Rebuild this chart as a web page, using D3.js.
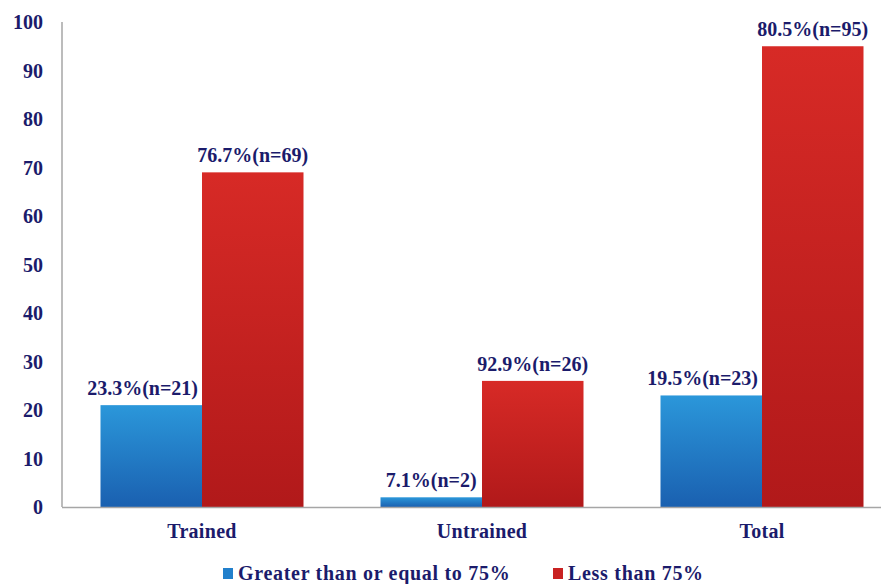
<!DOCTYPE html>
<html><head><meta charset="utf-8">
<script src="https://cdn.jsdelivr.net/npm/d3@7"></script>
<style>
html,body{margin:0;padding:0;background:#fff;}
</style></head>
<body>
<svg id="c" width="883" height="584"></svg>
<script>
const categories = ["Trained", "Untrained", "Total"];
const seriesNames = ["Greater than or equal to 75%", "Less than 75%"];
const greaterValues = [21, 2, 23];
const lessValues = [69, 26, 95];
const greaterLabels = ["23.3%(n=21)", "7.1%(n=2)", "19.5%(n=23)"];
const lessLabels = ["76.7%(n=69)", "92.9%(n=26)", "80.5%(n=95)"];
const yTicks = [0, 10, 20, 30, 40, 50, 60, 70, 80, 90, 100];

(function () {
const svg = d3.select("#c");
function styleText(sel, size) {
  return sel.attr("font-family", "Liberation Serif").attr("font-weight", "bold")
    .attr("font-size", size).attr("fill", "#1b1b6b");
}
const defs = svg.append("defs");
function grad(id, c0, c1) {
  const g = defs.append("linearGradient").attr("id", id).attr("x1", 0).attr("y1", 0).attr("x2", 0).attr("y2", 1);
  g.append("stop").attr("offset", "0%").attr("stop-color", c0);
  g.append("stop").attr("offset", "100%").attr("stop-color", c1);
}
grad("gBlue", "#2b97da", "#1a60b0");
grad("gRed", "#d72a26", "#b1191a");
const fills = ["url(#gBlue)", "url(#gRed)"];
const legendColors = ["#2280cc", "#c92222"];

const mLeft = 62, mBottom = 507, mTop = 22;
const y = d3.scaleLinear().domain([0, 100]).range([mBottom, mTop]);
const x0 = d3.scaleBand().domain(categories).range([mLeft, 902]).paddingInner(0.275).paddingOuter(0.1375);
const x1 = d3.scaleBand().domain([0, 1]).range([0, x0.bandwidth()]);

const series = [greaterValues, lessValues];
const labels = [greaterLabels, lessLabels];

svg.append("line").attr("x1", mLeft).attr("x2", mLeft).attr("y1", mTop).attr("y2", mBottom)
  .attr("stroke", "#a6a6a6").attr("stroke-width", 1.5);

styleText(svg.append("g").selectAll("text").data(yTicks).join("text"), 20)
  .attr("x", 43).attr("y", d => y(d)).attr("dy", "0.35em")
  .attr("text-anchor", "end").text(d => d);

const groups = svg.append("g").selectAll("g").data(categories).join("g")
  .attr("transform", c => `translate(${x0(c)},0)`);
groups.each(function(c, i) {
  const g = d3.select(this);
  series.forEach((vals, s) => {
    g.append("rect").attr("x", x1(s)).attr("width", x1.bandwidth())
      .attr("y", y(vals[i])).attr("height", y(0) - y(vals[i]))
      .attr("fill", fills[s]);
  });
});

svg.append("line").attr("x1", mLeft).attr("x2", 881).attr("y1", mBottom + 0.5).attr("y2", mBottom + 0.5)
  .attr("stroke", "#a6a6a6").attr("stroke-width", 1.5);

categories.forEach((c, i) => {
  series.forEach((vals, s) => {
    const bx = x0(c) + x1(s);
    const cx = bx + x1.bandwidth() / 2;
    const t = styleText(svg.append("text"), 20).attr("x", cx).attr("y", y(vals[i]) - 10)
      .attr("text-anchor", "middle").text(labels[s][i]);
    if (s === 0) {
      const w = t.node().getComputedTextLength();
      const maxRight = bx + x1.bandwidth() - 4;
      if (cx + w / 2 > maxRight) t.attr("x", maxRight - w / 2);
    }
  });
});

styleText(svg.append("g").selectAll("text").data(categories).join("text"), 20)
  .attr("x", c => x0(c) + x0.bandwidth() / 2).attr("y", 538)
  .attr("text-anchor", "middle").attr("letter-spacing", 0.3).text(c => c);

const legendX = [223, 553];
seriesNames.forEach((n, s) => {
  svg.append("rect").attr("x", legendX[s]).attr("y", 568).attr("width", 10).attr("height", 11)
    .attr("fill", legendColors[s]);
  styleText(svg.append("text"), 20).attr("x", legendX[s] + 15).attr("y", 580)
    .attr("letter-spacing", 0.7).text(n);
});
})();
</script>
</body></html>
